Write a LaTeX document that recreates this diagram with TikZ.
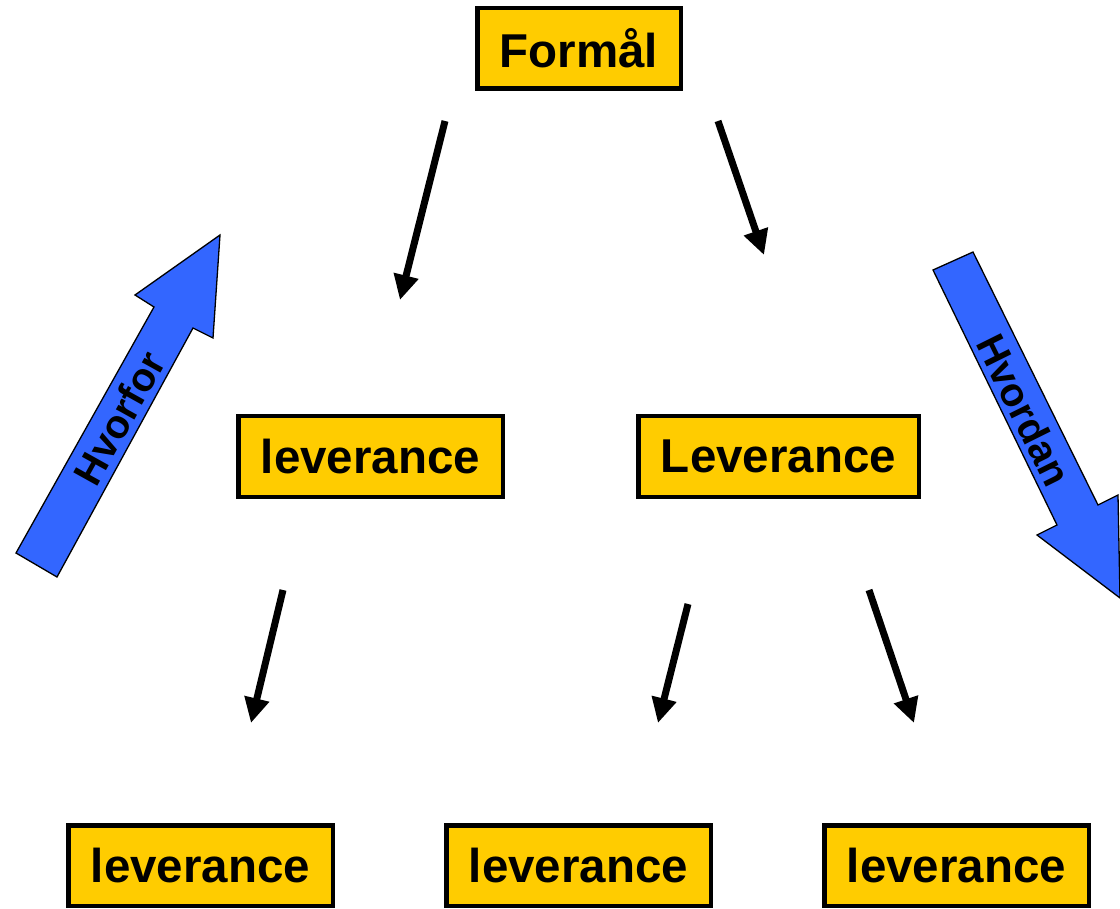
\documentclass[tikz,border=0pt]{standalone}
\usepackage{fontspec}
\setmainfont{Liberation Sans}
\usetikzlibrary{arrows.meta}
\definecolor{boxyellow}{HTML}{FFCC00}
\definecolor{arrowblue}{HTML}{3366FF}
\begin{document}
\begin{tikzpicture}[x=1pt,y=-1pt,
  levelbox/.style={draw=black, line width=4.5pt, fill=boxyellow, inner sep=0pt,
    minimum height=80.5pt, font=\fontsize{47.5}{52}\selectfont\bfseries},
  flow/.style={line width=7pt, -{Triangle[length=25pt,width=24pt]}},
  bigarrow/.style={fill=arrowblue, draw=black, line width=1.3pt, line join=miter},
  arrowtext/.style={font=\fontsize{40}{44}\selectfont\bfseries, inner sep=0pt}]
\useasboundingbox (0,0) rectangle (1120,909);

% boxes
\node[levelbox, minimum width=203.5pt] (top) at (579,48.5) {Formål};
\node[levelbox, minimum width=264.5pt] (midl) at (370.5,456.5) {leverance};
\node[levelbox, minimum width=280.5pt] (midr) at (778.5,456.5) {Leverance};
\node[levelbox, minimum width=264.5pt] (botl) at (200.5,865.5) {leverance};
\node[levelbox, minimum width=264.5pt] (botm) at (578.5,865.5) {leverance};
\node[levelbox, minimum width=264.5pt] (botr) at (956.5,865.5) {leverance};

% connector end points
\coordinate (a1s) at (445,121);  \coordinate (a1e) at (400,300);
\coordinate (a2s) at (718,121);  \coordinate (a2e) at (764,255);
\coordinate (a3s) at (283,590);  \coordinate (a3e) at (251,723);
\coordinate (a4s) at (688,604);  \coordinate (a4e) at (658,723);
\coordinate (a5s) at (869,590);  \coordinate (a5e) at (914,723);

\draw[flow] (a1s) -- (a1e);
\draw[flow] (a2s) -- (a2e);
\draw[flow] (a3s) -- (a3e);
\draw[flow] (a4s) -- (a4e);
\draw[flow] (a5s) -- (a5e);

% upward "why" arrow
\draw[bigarrow] (16,553) -- (57,577) -- (193,328) -- (213,338) -- (220,235)
  -- (135,295) -- (154,307) -- cycle;
\node[arrowtext, rotate=60.9] (why) at (119,418) {Hvorfor};

% downward "how" arrow
\draw[bigarrow] (933,270) -- (973,252) -- (1098,505) -- (1118,495) -- (1120,598)
  -- (1037,535) -- (1057,525) -- cycle;
\node[arrowtext, rotate=-63.6] (how) at (1024,410) {Hvordan};
\end{tikzpicture}
\end{document}
